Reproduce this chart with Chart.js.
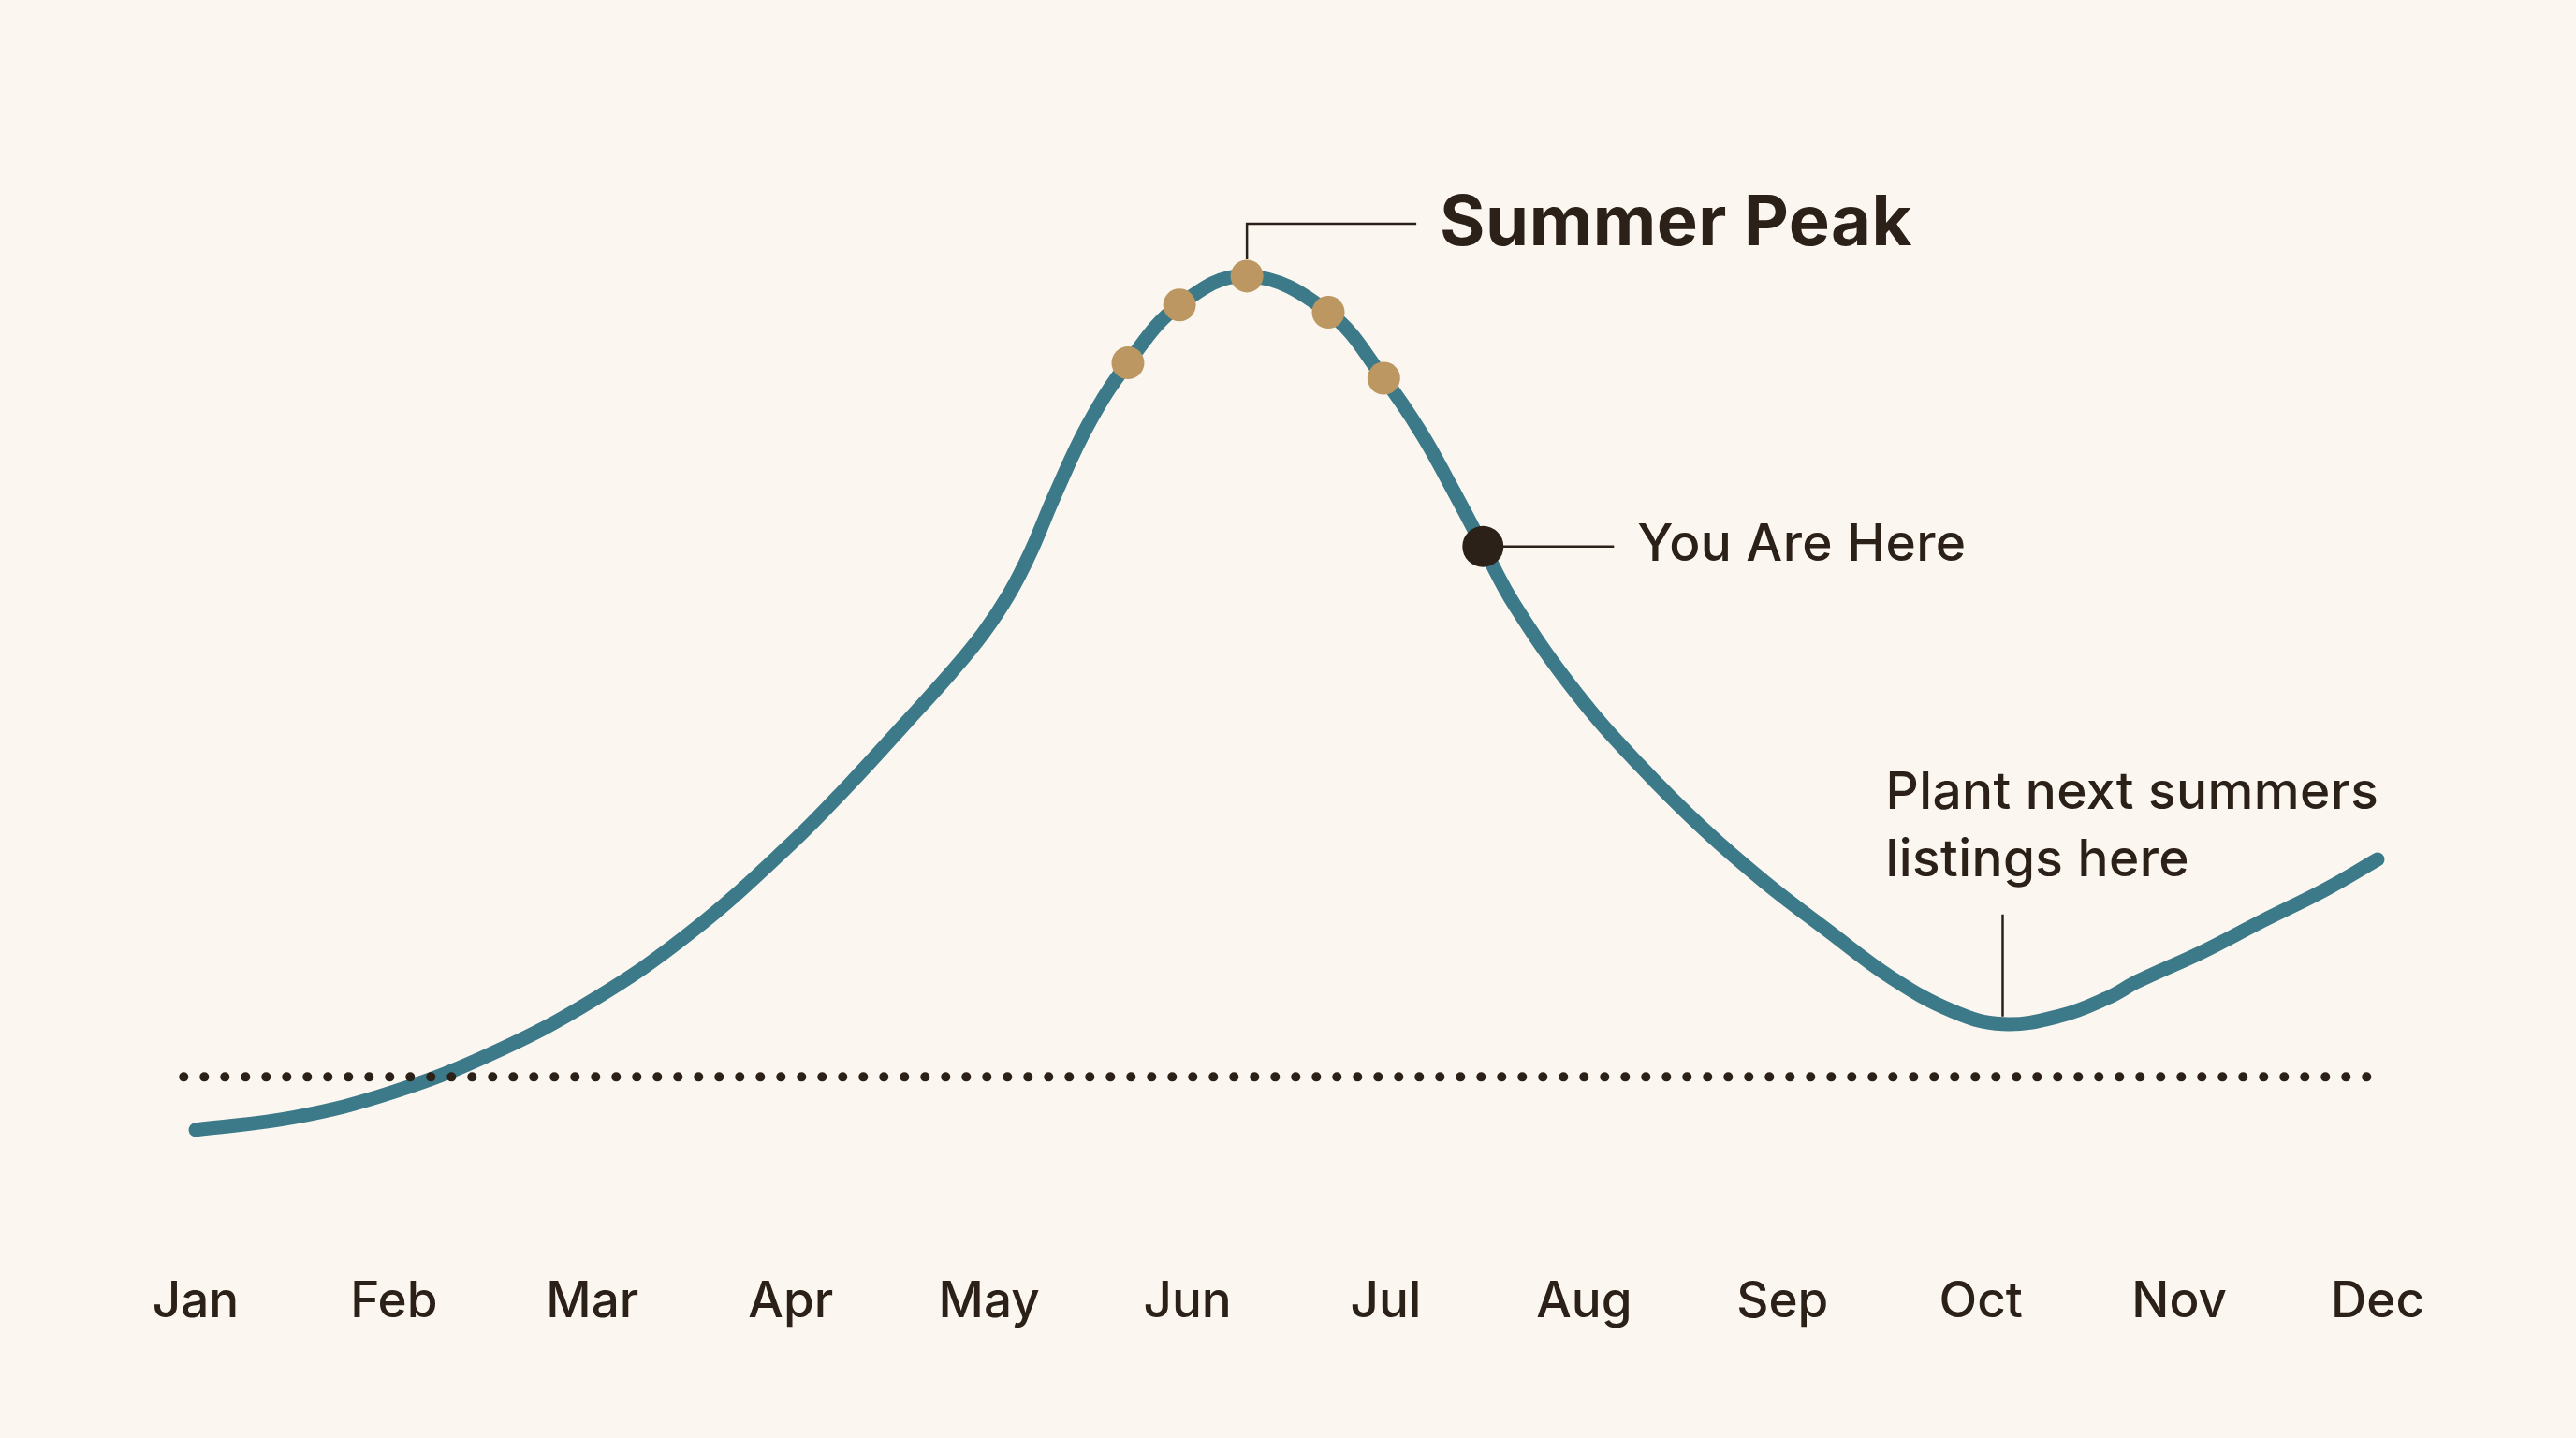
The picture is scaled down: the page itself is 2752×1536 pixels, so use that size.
<!DOCTYPE html>
<html>
<head>
<meta charset="utf-8">
<title>Seasonal demand</title>
<script src="https://cdn.jsdelivr.net/npm/chart.js@4/dist/chart.umd.min.js"></script>
<style>
  html, body { margin: 0; padding: 0; background: #fbf7f0; }
  canvas { display: block; }
</style>
</head>
<body>
<canvas id="seasonChart" width="2752" height="1536"></canvas>
<script>
// ---- data ----
const monthLabels = ["Jan", "Feb", "Mar", "Apr", "May", "Jun", "Jul", "Aug", "Sep", "Oct", "Nov", "Dec"];

// position along the year (0 = Jan ... 11 = Dec) and demand index
const demandX = [0.00, 0.50, 1.00, 1.50, 2.00, 2.50, 3.00, 3.30, 3.58, 3.81, 3.97, 4.10, 4.21,
                 4.33, 4.50, 4.70, 4.96, 5.30, 5.71, 5.99, 6.18, 6.33, 6.49, 6.65,
                 6.96, 7.28, 7.60, 7.91, 8.23, 8.55, 8.86, 9.11, 9.40, 9.64, 9.79,
                 10.11, 10.42, 10.74, 11.00];
const demandY = [2.3, 3.7, 6.5, 10.8, 16.6, 24.2, 33.9, 40.6, 47.3, 52.9, 57.2, 61.5, 66.2,
                 72.4, 80.3, 87.1, 93.5, 96.7, 92.7, 85.4, 79.3, 73.4, 66.8, 60.3,
                 50.6, 42.6, 35.6, 29.7, 24.3, 19.1, 15.4, 14.0, 14.9, 16.9, 18.7,
                 21.9, 25.4, 28.9, 32.2];

const peakX = [4.70, 4.96, 5.30, 5.71, 5.99];
const peakY = [87.1, 93.5, 96.7, 92.7, 85.4];

const hereX = [6.49];
const hereY = [66.8];

const lowX = 9.11;
const lowY = 14.0;

const baselineX = [-0.06, 11.04];
const baselineValue = 8.14;

// ---- colours ----
const TEAL = "#3c7a8a";
const TAN = "#bd9762";
const INK = "#2c2118";
const BG = "#fbf7f0";
const FONT = "Inter, Lato, sans-serif";

const zip = (xs, ys) => xs.map((x, i) => ({ x: x, y: ys[i] }));

// background + annotations
const backgroundPlugin = {
  id: "bg",
  beforeDraw(chart) {
    const c = chart.ctx;
    c.save();
    c.fillStyle = BG;
    c.fillRect(0, 0, chart.width, chart.height);
    c.restore();
  }
};

const notesPlugin = {
  id: "notes",
  afterDatasetsDraw(chart) {
    const c = chart.ctx;
    const xs = chart.scales.x, ys = chart.scales.y;
    c.save();
    c.strokeStyle = INK;
    c.fillStyle = INK;
    c.lineWidth = 2.5;

    // Summer Peak
    const px = xs.getPixelForValue(peakX[2]);
    const py = ys.getPixelForValue(peakY[2]);
    c.beginPath();
    c.moveTo(px, py - 18);
    c.lineTo(px, py - 56);
    c.lineTo(px + 181, py - 56);
    c.stroke();
    c.font = "bold 74px " + FONT;
    c.letterSpacing = "0.5px";
    c.textBaseline = "alphabetic";
    c.textAlign = "left";
    c.fillText("Summer Peak", px + 206, py - 33);

    // You Are Here
    const hx = xs.getPixelForValue(hereX[0]);
    const hy = ys.getPixelForValue(hereY[0]);
    c.beginPath();
    c.moveTo(hx + 20, hy);
    c.lineTo(hx + 140, hy);
    c.stroke();
    c.font = "500 55px " + FONT;
    c.letterSpacing = "0.4px";
    c.fillText("You Are Here", hx + 165, hy + 15);

    // Plant next summers listings here
    const lx = xs.getPixelForValue(lowX);
    const ly = ys.getPixelForValue(lowY);
    c.beginPath();
    c.moveTo(lx, ly - 8);
    c.lineTo(lx, ly - 117);
    c.stroke();
    c.fillText("Plant next summers", lx - 125, ly - 230);
    c.fillText("listings here", lx - 125, ly - 158);
    c.restore();
  }
};

new Chart(document.getElementById("seasonChart"), {
  type: "line",
  data: {
    datasets: [
      {
        label: "You are here",
        data: zip(hereX, hereY),
        showLine: false,
        pointRadius: 22,
        pointBackgroundColor: INK,
        pointBorderWidth: 0,
        order: 0
      },
      {
        label: "Peak",
        data: zip(peakX, peakY),
        showLine: false,
        pointRadius: 17.5,
        pointBackgroundColor: TAN,
        pointBorderWidth: 0,
        order: 1
      },
      {
        label: "Baseline",
        data: baselineX.map(x => ({ x: x, y: baselineValue })),
        borderColor: INK,
        borderWidth: 10,
        borderDash: [0, 22],
        borderCapStyle: "round",
        pointRadius: 0,
        clip: false,
        order: 2
      },
      {
        label: "Demand",
        data: zip(demandX, demandY),
        borderColor: TEAL,
        borderWidth: 15,
        borderCapStyle: "round",
        borderJoinStyle: "round",
        tension: 0.4,
        pointRadius: 0,
        fill: false,
        clip: false,
        order: 3
      }
    ]
  },
  options: {
    responsive: false,
    animation: false,
    devicePixelRatio: 1,
    layout: { padding: { left: 209, right: 212, top: 263, bottom: 0 } },
    plugins: {
      legend: { display: false },
      tooltip: { enabled: false }
    },
    scales: {
      x: {
        type: "linear",
        min: 0,
        max: 11,
        grid: { display: false, drawTicks: false },
        border: { display: false },
        afterFit: scale => { scale.height = 307; },
        ticks: {
          stepSize: 1,
          autoSkip: false,
          maxRotation: 0,
          padding: 130,
          color: INK,
          font: { family: FONT, size: 53, weight: "500" },
          callback: v => monthLabels[v]
        }
      },
      y: {
        display: false,
        min: 0,
        max: 100
      }
    }
  },
  plugins: [backgroundPlugin, notesPlugin]
});
</script>
</body>
</html>
